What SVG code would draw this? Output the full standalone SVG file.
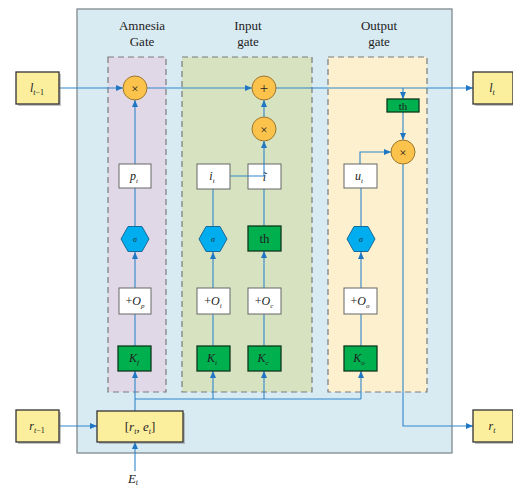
<svg xmlns="http://www.w3.org/2000/svg" width="513" height="490" viewBox="0 0 513 490">
<style>
.lbl{font-family:"Liberation Serif","Times New Roman",serif;fill:#222;}
.it{font-style:italic;}
.ybox{fill:#fbee9d;stroke:#333;stroke-width:1.3;}
.wbox{fill:#fff;stroke:#666;stroke-width:1;}
.gbox{fill:#00b04f;stroke:#0c3a1c;stroke-width:1.3;}
.circ{fill:#fcc34c;stroke:#9a7630;stroke-width:1;}
.hex{fill:#00aeef;stroke:#1a6a99;stroke-width:1;}
.gate{stroke:#7a7a7a;stroke-width:1.2;stroke-dasharray:6,4;}
.ln{fill:none;stroke:#2f86cc;stroke-width:1.1;}
.shadow{fill:#888;opacity:0.5;}
</style>
<defs>
<marker id="ah" markerWidth="7" markerHeight="6" refX="7" refY="3" orient="auto" markerUnits="userSpaceOnUse">
<path d="M0,0 L7,3 L0,6 z" fill="#1f77c4"/>
</marker>
</defs>
<rect x="77" y="9" width="375" height="444" fill="#d9ebf2" stroke="#7f8a90" stroke-width="1.3"/>
<g id="amnesia-gate">
<rect x="108" y="57" width="58" height="335" fill="#e1d8e7" class="gate"/>
<text class="lbl" x="142" y="30" font-size="13" text-anchor="middle">Amnesia</text>
<text class="lbl" x="142" y="46" font-size="13" text-anchor="middle">Gate</text>
</g>
<g id="input-gate">
<rect x="182" y="57" width="130" height="335" fill="#d7e2c1" class="gate"/>
<text class="lbl" x="248" y="30" font-size="13" text-anchor="middle">Input</text>
<text class="lbl" x="248" y="46" font-size="13" text-anchor="middle">gate</text>
</g>
<g id="output-gate">
<rect x="328" y="57" width="99" height="335" fill="#fdf0cf" class="gate"/>
<text class="lbl" x="379" y="30" font-size="13" text-anchor="middle">Output</text>
<text class="lbl" x="379" y="46" font-size="13" text-anchor="middle">gate</text>
</g>
<g id="connectors">
<path class="ln" d="M59,88 L123,88" marker-end="url(#ah)"/>
<path class="ln" d="M147,88 L252,88" marker-end="url(#ah)"/>
<path class="ln" d="M276,88 L473,88" marker-end="url(#ah)"/>
<path class="ln" d="M403,88 L403,99" marker-end="url(#ah)"/>
<path class="ln" d="M403,112 L403,140" marker-end="url(#ah)"/>
<path class="ln" d="M360,164 L360,152 L391,152" marker-end="url(#ah)"/>
<path class="ln" d="M403,164 L403,426 L473,426" marker-end="url(#ah)"/>
<path class="ln" d="M135,164 L135,100" marker-end="url(#ah)"/>
<path class="ln" d="M135,227 L135,188"/>
<path class="ln" d="M135,288 L135,252" marker-end="url(#ah)"/>
<path class="ln" d="M135,346 L135,314"/>
<path class="ln" d="M135,411 L135,371" marker-end="url(#ah)"/>
<path class="ln" d="M135,399 L361,399"/>
<path class="ln" d="M213,399 L213,371" marker-end="url(#ah)"/>
<path class="ln" d="M264,399 L264,371" marker-end="url(#ah)"/>
<path class="ln" d="M361,399 L361,371" marker-end="url(#ah)"/>
<path class="ln" d="M213,346 L213,314"/>
<path class="ln" d="M213,288 L213,252" marker-end="url(#ah)"/>
<path class="ln" d="M213,227 L213,189"/>
<path class="ln" d="M264,346 L264,314"/>
<path class="ln" d="M264,288 L264,251" marker-end="url(#ah)"/>
<path class="ln" d="M264,226 L264,189"/>
<path class="ln" d="M361,346 L361,314"/>
<path class="ln" d="M361,288 L361,252" marker-end="url(#ah)"/>
<path class="ln" d="M361,227 L361,188"/>
<path class="ln" d="M264,117 L264,100" marker-end="url(#ah)"/>
<path class="ln" d="M59,426 L97,426" marker-end="url(#ah)"/>
<path class="ln" d="M135,471 L135,442" marker-end="url(#ah)"/>
</g>
<g id="l_prev">
<rect class="shadow" x="18" y="74" width="43" height="32"/>
<rect class="ybox" x="16" y="72" width="43" height="32"/>
<text class="lbl it" x="37" y="92" font-size="12" text-anchor="middle">l<tspan font-size="8" dy="3">t</tspan><tspan font-size="8" font-style="normal">−1</tspan></text>
</g>
<g id="l_t">
<rect class="shadow" x="475" y="74" width="40" height="32"/>
<rect class="ybox" x="473" y="72" width="40" height="32"/>
<text class="lbl it" x="492" y="92" font-size="12" text-anchor="middle">l<tspan font-size="8" dy="3">t</tspan></text>
</g>
<g id="r_prev">
<rect class="shadow" x="18" y="412" width="43" height="32"/>
<rect class="ybox" x="16" y="410" width="43" height="32"/>
<text class="lbl it" x="37" y="430" font-size="12" text-anchor="middle">r<tspan font-size="8" dy="3">t</tspan><tspan font-size="8" font-style="normal">−1</tspan></text>
</g>
<g id="r_t">
<rect class="shadow" x="475" y="412" width="40" height="32"/>
<rect class="ybox" x="473" y="410" width="40" height="32"/>
<text class="lbl it" x="492" y="430" font-size="12" text-anchor="middle">r<tspan font-size="8" dy="3">t</tspan></text>
</g>
<g id="concat">
<rect class="shadow" x="99" y="413" width="86" height="31"/>
<rect class="ybox" x="97" y="411" width="86" height="31"/>
<text class="lbl" x="140" y="431" font-size="13" text-anchor="middle">[<tspan font-style="italic">r</tspan><tspan font-size="8" dy="3" font-style="italic">t</tspan><tspan dy="-3">, </tspan><tspan font-style="italic">e</tspan><tspan font-size="8" dy="3" font-style="italic">t</tspan><tspan dy="-3">]</tspan></text>
</g>
<g id="E_t">
<text class="lbl it" x="133" y="483" font-size="13" text-anchor="middle">E<tspan font-size="8" dy="2">t</tspan></text>
</g>
<g id="mul_forget">
<circle class="circ" cx="135" cy="88" r="12"/>
<text class="lbl" x="135" y="92.5" font-size="13" text-anchor="middle">×</text>
</g>
<g id="add_cell">
<circle class="circ" cx="264" cy="88" r="12"/>
<text class="lbl" x="264" y="93" font-size="15" text-anchor="middle">+</text>
</g>
<g id="mul_input">
<circle class="circ" cx="264" cy="129" r="12"/>
<text class="lbl" x="264" y="133.5" font-size="13" text-anchor="middle">×</text>
</g>
<g id="mul_output">
<circle class="circ" cx="403" cy="152" r="12"/>
<text class="lbl" x="403" y="156.5" font-size="13" text-anchor="middle">×</text>
</g>
<g id="th_out">
<rect class="gbox" x="387" y="99" width="32" height="13"/>
<text class="lbl" x="403" y="109.5" font-size="11" text-anchor="middle">th</text>
</g>
<g id="p_t">
<rect class="wbox" x="119" y="164" width="32" height="24"/>
<text class="lbl it" x="134" y="180" font-size="12" text-anchor="middle">p<tspan font-size="7" dy="3">t</tspan></text>
</g>
<g id="i_t">
<rect class="wbox" x="197" y="164" width="33" height="25"/>
<text class="lbl it" x="212" y="180" font-size="12" text-anchor="middle">i<tspan font-size="7" dy="3">t</tspan></text>
</g>
<g id="i_tilde">
<rect class="wbox" x="248" y="164" width="33" height="25"/>
<text class="lbl it" x="264.5" y="181" font-size="12" text-anchor="middle">ĩ</text>
</g>
<path class="ln" d="M230,176 L264,176 L264,141" marker-end="url(#ah)"/>
<g id="u_t">
<rect class="wbox" x="344" y="164" width="33" height="24"/>
<text class="lbl it" x="359" y="180" font-size="12" text-anchor="middle">u<tspan font-size="7" dy="3">t</tspan></text>
</g>
<g id="sig_f">
<polygon class="hex" points="121,239 128,226.5 142,226.5 149,239 142,251.5 128,251.5"/>
<text class="lbl it" x="135" y="242" font-size="8" text-anchor="middle">σ</text>
</g>
<g id="sig_i">
<polygon class="hex" points="199,239 206,226.5 220,226.5 227,239 220,251.5 206,251.5"/>
<text class="lbl it" x="213" y="242" font-size="8" text-anchor="middle">σ</text>
</g>
<g id="th_c">
<rect class="gbox" x="248" y="226" width="33" height="25"/>
<text class="lbl" x="264.5" y="243" font-size="13" text-anchor="middle">th</text>
</g>
<g id="sig_o">
<polygon class="hex" points="347,239 354,226.5 368,226.5 375,239 368,251.5 354,251.5"/>
<text class="lbl it" x="361" y="242" font-size="8" text-anchor="middle">σ</text>
</g>
<g id="O_p">
<rect class="wbox" x="119" y="288" width="32" height="26"/>
<text class="lbl" x="135" y="305" font-size="12" text-anchor="middle">+<tspan font-style="italic">O</tspan><tspan font-size="7" dy="3" font-style="italic">p</tspan></text>
</g>
<g id="O_i">
<rect class="wbox" x="197" y="288" width="33" height="26"/>
<text class="lbl" x="213" y="305" font-size="12" text-anchor="middle">+<tspan font-style="italic">O</tspan><tspan font-size="7" dy="3" font-style="italic">i</tspan></text>
</g>
<g id="O_c">
<rect class="wbox" x="248" y="288" width="33" height="26"/>
<text class="lbl" x="264" y="305" font-size="12" text-anchor="middle">+<tspan font-style="italic">O</tspan><tspan font-size="7" dy="3" font-style="italic">c</tspan></text>
</g>
<g id="O_o">
<rect class="wbox" x="344" y="288" width="33" height="26"/>
<text class="lbl" x="360" y="305" font-size="12" text-anchor="middle">+<tspan font-style="italic">O</tspan><tspan font-size="7" dy="3" font-style="italic">o</tspan></text>
</g>
<g id="K_f">
<rect class="gbox" x="118" y="346" width="33" height="25"/>
<text class="lbl it" x="134" y="362" font-size="12" text-anchor="middle">K<tspan font-size="7" dy="3">f</tspan></text>
</g>
<g id="K_i">
<rect class="gbox" x="197" y="346" width="33" height="25"/>
<text class="lbl it" x="212" y="362" font-size="12" text-anchor="middle">K<tspan font-size="7" dy="3">i</tspan></text>
</g>
<g id="K_c">
<rect class="gbox" x="248" y="346" width="33" height="25"/>
<text class="lbl it" x="263" y="362" font-size="12" text-anchor="middle">K<tspan font-size="7" dy="3">c</tspan></text>
</g>
<g id="K_o">
<rect class="gbox" x="344" y="346" width="33" height="25"/>
<text class="lbl it" x="359" y="362" font-size="12" text-anchor="middle">K<tspan font-size="7" dy="3">o</tspan></text>
</g>
</svg>
